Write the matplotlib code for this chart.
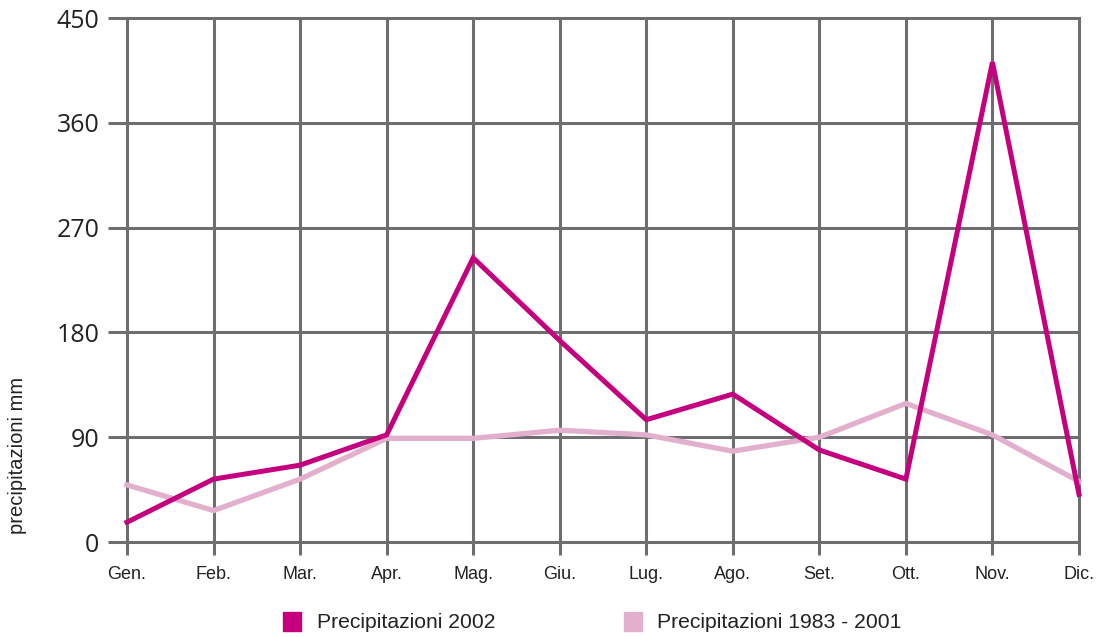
import matplotlib
matplotlib.use("Agg")
import matplotlib.pyplot as plt
from matplotlib.patches import Rectangle

months = ["Gen.", "Feb.", "Mar.", "Apr.", "Mag.", "Giu.", "Lug.", "Ago.", "Set.", "Ott.", "Nov.", "Dic."]
rain_2002 = [17, 54, 66, 92, 244, 173, 105, 127, 79, 54, 412, 41]
rain_1983_2001 = [49, 27, 54, 89, 89, 96, 92, 78, 90, 119, 92, 52]
y_ticks = [0, 90, 180, 270, 360, 450]
series_labels = ["Precipitazioni 2002", "Precipitazioni 1983 - 2001"]

c_2002 = "#c4007f"
c_avg = "#e2b0cd"
grid_c = "#6e6e70"

W, H = 1110, 637
fig = plt.figure(figsize=(W / 100, H / 100), dpi=100)
ax = fig.add_axes([127 / W, 1 - 542 / H, (1079 - 127) / W, (542 - 18) / H])

x = list(range(len(months)))
ax.plot(x, rain_1983_2001, color=c_avg, lw=3.8, clip_on=False, zorder=3, solid_joinstyle="miter")
ax.plot(x, rain_2002, color=c_2002, lw=3.6, clip_on=False, zorder=4, solid_joinstyle="miter")

ax.set_xlim(0, len(months) - 1)
ax.set_ylim(0, 450)
ax.set_xticks(x)
ax.set_xticklabels(months, fontfamily="Liberation Sans", fontsize=13, color="#222222")
ax.set_yticks(y_ticks)
ax.set_yticklabels([str(v) for v in y_ticks], fontfamily="Open Sans", fontsize=18, color="#222222")
ax.grid(True, color=grid_c, lw=2.2, zorder=1)
ax.set_axisbelow(True)
for gl in ax.get_xgridlines() + ax.get_ygridlines():
    gl.set_clip_on(False)
for s in ax.spines.values():
    s.set_visible(False)
ax.tick_params(axis="y", length=14, width=2.2, color=grid_c, pad=6)
ax.tick_params(axis="x", length=9.5, width=2.2, color=grid_c, pad=8)

fig.text(18 / W, 1 - 455 / H, "precipitazioni mm", rotation=90, ha="center", va="center",
         fontfamily="Liberation Sans", fontsize=14.5, color="#222222")

# legend
for (sx, tx, col, lab) in [(283, 317, c_2002, series_labels[0]), (624, 657, c_avg, series_labels[1])]:
    fig.patches.append(Rectangle((sx / W, 1 - 631 / H), 18 / W, 19 / H, transform=fig.transFigure,
                                 color=col, figure=fig))
    fig.text(tx / W, 1 - 622 / H, lab, ha="left", va="center", fontfamily="Liberation Sans",
             fontsize=15.2, color="#222222")

fig.savefig("out.png", dpi=100)
